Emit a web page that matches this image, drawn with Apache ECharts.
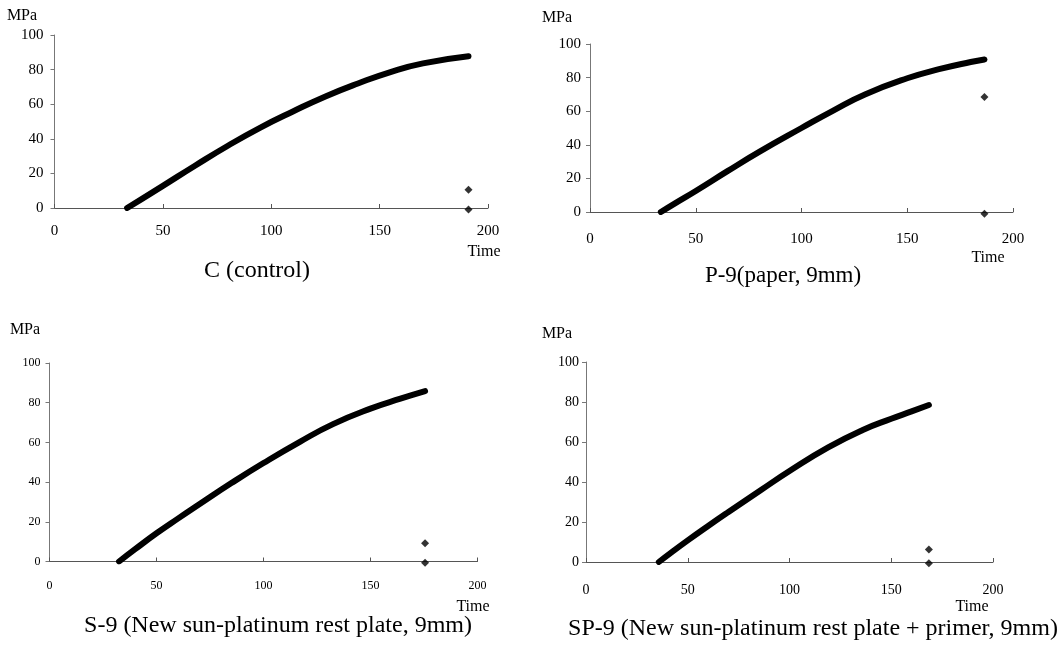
<!DOCTYPE html>
<html>
<head>
<meta charset="utf-8">
<script src="https://cdn.jsdelivr.net/npm/echarts@6/dist/echarts.min.js"></script>
<style>
  html, body { margin: 0; padding: 0; background: #fff; }
  #chart { width: 1064px; height: 646px; }
</style>
</head>
<body>
<div id="chart"></div>
<script>
// axis ticks
var timeTicks = [0, 50, 100, 150, 200]
var mpaTicks = [0, 20, 40, 60, 80, 100]

// C (control)
var cTime = [33.5, 40, 50, 65, 80, 95, 110, 125, 140, 155, 170, 191]
var cMpa = [0, 5, 12.8, 24.6, 36, 46.5, 55.8, 64.5, 72, 78.6, 83.6, 87.7]
var cEndTime = [191, 191]
var cEndMpa = [10.6, -0.8]

// P-9 (paper)
var pTime = [33.5, 40, 50, 65, 80, 100, 115, 130, 150, 165, 180, 186.5]
var pMpa = [0, 5, 12.5, 24.3, 35.8, 50, 60.4, 70, 79.6, 85, 89.3, 90.8]
var pEndTime = [186.5, 186.5]
var pEndMpa = [68.5, -1]

// S-9
var sTime = [32.5, 40, 50, 60, 70, 85, 100, 117, 132.5, 150, 164, 175.5]
var sMpa = [0, 6.2, 14.2, 21.6, 28.8, 39.5, 49.6, 60.3, 69.2, 77, 82, 85.8]
var sEndTime = [175.5, 175.5]
var sEndMpa = [9.2, -0.6]

// SP-9
var spTime = [35.8, 42, 50, 60, 70, 86, 100, 119, 136, 150, 160, 168.5]
var spMpa = [0, 4.8, 10.8, 18, 25, 36, 45.5, 57.3, 66, 71.6, 75.3, 78.5]
var spEndTime = [168.5, 168.5]
var spEndMpa = [6.3, -0.6]

var titles = [
  'C (control)',
  'P-9(paper, 9mm)',
  'S-9 (New sun-platinum rest plate, 9mm)',
  'SP-9 (New sun-platinum rest plate + primer, 9mm)'
]

var FONT = '"Liberation Serif", "DejaVu Serif", serif'

function zip(xs, ys) {
  return xs.map(function (x, i) { return [x, ys[i]] })
}

var panels = [
  { t: cTime, v: cMpa, et: cEndTime, ev: cEndMpa,
    grid: { left: 54.5, top: 35, width: 433.5, height: 173 },
    fs: 15, xm: 16, ym: 11, ts: 24,
    mpa: [22, 16], time: [484, 252], title: [257, 271] },
  { t: pTime, v: pMpa, et: pEndTime, ev: pEndMpa,
    grid: { left: 590, top: 44, width: 423, height: 168 },
    fs: 15, xm: 20, ym: 9, ts: 23,
    mpa: [557, 18], time: [988, 258], title: [783, 276] },
  { t: sTime, v: sMpa, et: sEndTime, ev: sEndMpa,
    grid: { left: 49.5, top: 363, width: 428, height: 198.5 },
    fs: 12, xm: 18, ym: 9, ts: 24,
    mpa: [25, 330], time: [473, 607], title: [278, 626] },
  { t: spTime, v: spMpa, et: spEndTime, ev: spEndMpa,
    grid: { left: 586, top: 362, width: 407, height: 200 },
    fs: 14, xm: 21, ym: 7, ts: 24,
    mpa: [557, 334], time: [972, 607], title: [813, 629] }
]

var grids = [], xAxes = [], yAxes = [], series = [], graphics = []

panels.forEach(function (p, i) {
  grids.push(p.grid)
  xAxes.push({
    type: 'value', gridIndex: i,
    min: timeTicks[0], max: timeTicks[timeTicks.length - 1], interval: 50,
    splitLine: { show: false },
    axisLine: { onZero: false, lineStyle: { color: '#555', width: 1 } },
    axisTick: { inside: true, length: 4, lineStyle: { color: '#555' } },
    axisLabel: { color: '#000', fontFamily: FONT, fontSize: p.fs, margin: p.xm }
  })
  yAxes.push({
    type: 'value', gridIndex: i,
    min: mpaTicks[0], max: mpaTicks[mpaTicks.length - 1], interval: 20,
    splitLine: { show: false },
    axisLine: { show: true, lineStyle: { color: '#777', width: 1 } },
    axisTick: { show: true, length: 4, lineStyle: { color: '#777' } },
    axisLabel: { color: '#000', fontFamily: FONT, fontSize: p.fs, margin: p.ym }
  })
  series.push({
    type: 'line', xAxisIndex: i, yAxisIndex: i,
    data: zip(p.t, p.v),
    smooth: 0.5, showSymbol: false, animation: false,
    lineStyle: { color: '#000', width: 6, cap: 'round', join: 'round' }
  })
  series.push({
    type: 'scatter', xAxisIndex: i, yAxisIndex: i,
    data: zip(p.et, p.ev), clip: false, animation: false,
    symbol: 'diamond', symbolSize: 8,
    itemStyle: { color: '#000' }
  })
  graphics.push({
    type: 'text', x: p.mpa[0], y: p.mpa[1],
    style: { text: 'MPa', fill: '#000', font: '16px ' + FONT, align: 'center', verticalAlign: 'middle' }
  })
  graphics.push({
    type: 'text', x: p.time[0], y: p.time[1],
    style: { text: 'Time', fill: '#000', font: '16px ' + FONT, align: 'center', verticalAlign: 'middle' }
  })
  graphics.push({
    type: 'text', x: p.title[0], y: p.title[1],
    style: { text: titles[i], fill: '#000', font: p.ts + 'px ' + FONT, align: 'center', verticalAlign: 'middle' }
  })
})

var chart = echarts.init(document.getElementById('chart'), null, { renderer: 'canvas' })
chart.setOption({
  backgroundColor: '#fff',
  animation: false,
  grid: grids,
  xAxis: xAxes,
  yAxis: yAxes,
  series: series,
  graphic: graphics
})
</script>
</body>
</html>
